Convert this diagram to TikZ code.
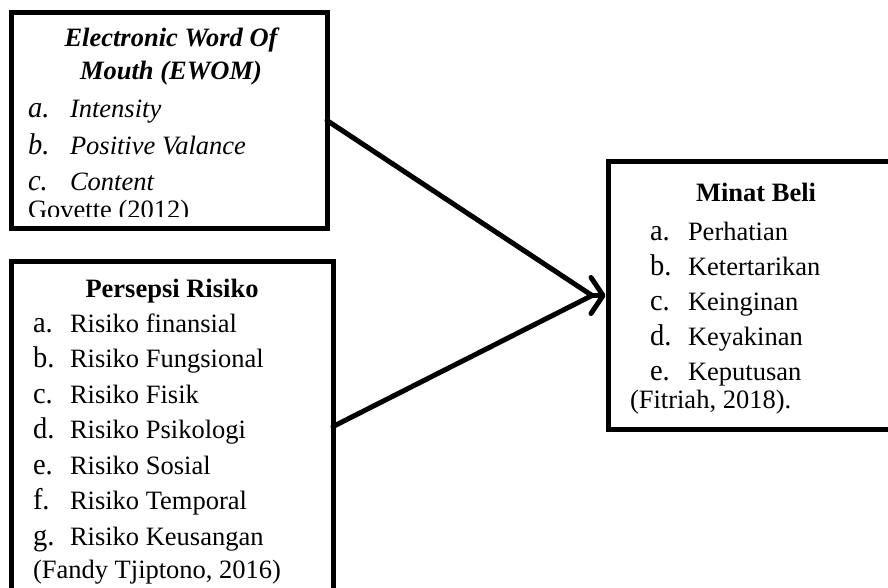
\documentclass[tikz,border=0pt]{standalone}
\usepackage{fontspec}
\setmainfont{Liberation Serif}
\newfontfamily\labfont{Liberation Serif}[FakeStretch=0.95]
\usetikzlibrary{arrows.meta,calc}
\newcommand\mainsz{\fontsize{26.5}{30}\selectfont}
\newcommand\labsz{\labfont\fontsize{30}{34}\selectfont}
\tikzset{
  box/.style={draw=black, line width=5pt, fill=white, rectangle, inner sep=0pt, outer sep=0pt, anchor=north west},
  conn/.style={draw=black, line width=5pt, line cap=round},
  headarrow/.style={draw=black, line width=5pt, line cap=round, line join=round, -{Straight Barb[length=12pt,width=36pt,line cap=round,line join=round]}},
  txt/.style={inner sep=0pt, outer sep=0pt, anchor=base west, font=\mainsz},
  ttl/.style={inner sep=0pt, outer sep=0pt, anchor=base, font=\mainsz\bfseries},
  lab/.style={inner sep=0pt, outer sep=0pt, anchor=base west, font=\labsz},
}
\begin{document}
\begin{tikzpicture}[x=1pt,y=-1pt]
\path[use as bounding box, clip] (0,0) rectangle (888,588);
\fill[white] (0,0) rectangle (888,588);
% boxes
\node[box, minimum width=316pt, minimum height=215pt] (ewom) at (11,13) {};
\node[box, minimum width=322pt, minimum height=331pt] (risiko) at (11,261) {};
\node[box, minimum width=300pt, minimum height=267pt] (minat) at (608,162) {};
% connectors
\coordinate (m) at ($(minat.west)+(-16pt,0)$);
\draw[conn] (ewom.east) -- (m);
\draw[conn] (risiko.east) -- (m);
\draw[headarrow] (m) -- ($(minat.west)+(-2.5pt,0)$);
% EWOM text
\node[ttl, font=\mainsz\bfseries\itshape] (e1) at (171,47) {Electronic Word Of};
\node[ttl, font=\mainsz\bfseries\itshape] (e2) at (171,80) {Mouth (EWOM)};
\node[lab, font=\labsz\itshape] (ela) at (28,118) {a.};
\node[txt, font=\mainsz\itshape] (eta) at (70,118) {Intensity};
\node[lab, font=\labsz\itshape] (elb) at (28,155) {b.};
\node[txt, font=\mainsz\itshape] (etb) at (70,155) {Positive Valance};
\node[lab, font=\labsz\itshape] (elc) at (28,190) {c.};
\node[txt, font=\mainsz\itshape] (etc) at (70,190) {Content};
\begin{scope}
\clip (14,195) rectangle (324,216.5);
\node[txt] (esrc) at (28,218) {Govette (2012)};
\end{scope}
% Persepsi Risiko text
\node[ttl] (r0) at (172,297) {Persepsi Risiko};
\node[lab] (rla) at (33,332) {a.};
\node[txt] (rta) at (70,332) {Risiko finansial};
\node[lab] (rlb) at (33,367.5) {b.};
\node[txt] (rtb) at (70,367.5) {Risiko Fungsional};
\node[lab] (rlc) at (33,403) {c.};
\node[txt] (rtc) at (70,403) {Risiko Fisik};
\node[lab] (rld) at (33,438.5) {d.};
\node[txt] (rtd) at (70,438.5) {Risiko Psikologi};
\node[lab] (rle) at (33,474) {e.};
\node[txt] (rte) at (70,474) {Risiko Sosial};
\node[lab] (rlf) at (33,509.5) {f.};
\node[txt] (rtf) at (70,509.5) {Risiko Temporal};
\node[lab] (rlg) at (33,545) {g.};
\node[txt] (rtg) at (70,545) {Risiko Keusangan};
\node[txt] (rsrc) at (33,578) {(Fandy Tjiptono, 2016)};
% Minat Beli text
\node[ttl] (m0) at (756,201) {Minat Beli};
\node[lab] (mla) at (650,240) {a.};
\node[txt] (mta) at (688,240) {Perhatian};
\node[lab] (mlb) at (650,275) {b.};
\node[txt] (mtb) at (688,275) {Ketertarikan};
\node[lab] (mlc) at (650,310) {c.};
\node[txt] (mtc) at (688,310) {Keinginan};
\node[lab] (mld) at (650,345) {d.};
\node[txt] (mtd) at (688,345) {Keyakinan};
\node[lab] (mle) at (650,380) {e.};
\node[txt] (mte) at (688,380) {Keputusan};
\node[txt] (msrc) at (630,408) {(Fitriah, 2018).};
\end{tikzpicture}
\end{document}
